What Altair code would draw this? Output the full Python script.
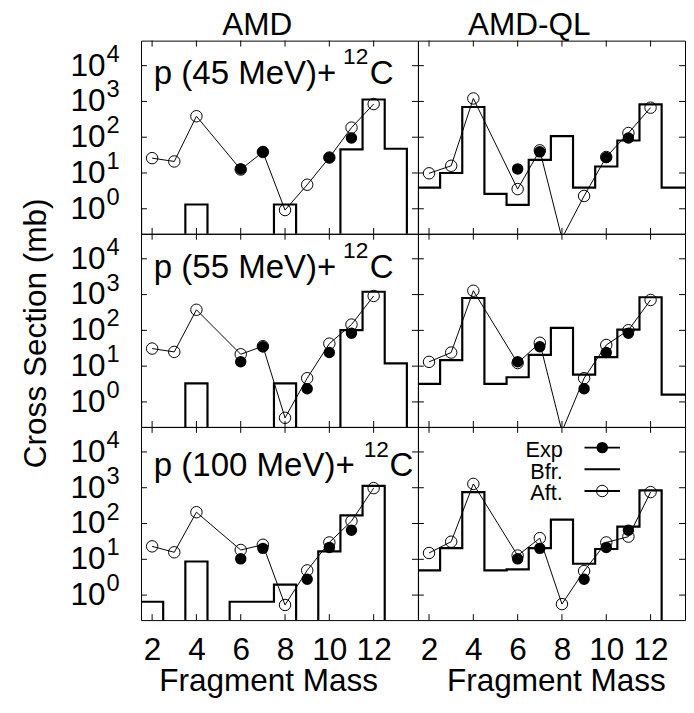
import altair as alt
import pandas as pd

FONT = "Liberation Sans"

# ---------------- data ----------------
models = ["AMD", "AMD-QL"]
energies = [45, 55, 100]
row_labels = ["p (45 MeV)+", "p (55 MeV)+", "p (100 MeV)+"]
target_mass = "12"
target_symbol = "C"

hist_masses = [1, 2, 3, 4, 5, 6, 7, 8, 9, 10, 11, 12, 13, 14]
bfr_amd_45 = [1.0, 0, 0, 1.32, 0, 0, 0, 1.32, 0, 0, 45.6, 1135, 47.6, 0]
bfr_amd_55 = [1.0, 0, 0, 3.3, 0, 0, 0, 3.3, 0, 0, 101, 1200, 11.9, 0]
bfr_amd_100 = [0.65, 0.65, 0, 8.7, 0, 0.65, 0.65, 1.97, 0, 16.7, 168, 1130, 0, 0]
bfr_ql_45 = [0, 3.9, 10, 698, 2.6, 1.29, 23.3, 107, 3.9, 15.2, 81, 826, 3.9, 3.9]
bfr_ql_55 = [0, 3.2, 14.7, 803, 3.2, 4.9, 20.6, 117, 5.8, 17.8, 105, 840, 1.6, 1.6]
bfr_ql_100 = [0, 4.9, 20.6, 755, 4.9, 5.2, 20.6, 128, 7.5, 19.4, 82, 840, 0, 0]

aft_masses = [2, 3, 4, 6, 7, 8, 9, 10, 11, 12]
aft_amd_45 = [26, 21, 386, 12.5, 38.6, 0.92, 4.7, 27, 185, 845]
aft_amd_55 = [31, 25, 376, 21.5, 36, 0.36, 4.6, 42.5, 145, 914]
aft_amd_100 = [23, 15.7, 207, 18.2, 25.5, 0.53, 4.9, 29.6, 117, 975]
aft_ql_45 = [9.8, 15.9, 1210, 3.55, 43, 0.15, 2.28, 28, 131, 670]
aft_ql_55 = [13.2, 24, 1280, 12.2, 45, 0.15, 4.6, 39, 101, 708]
aft_ql_100 = [15, 31, 1280, 12.7, 39, 0.56, 4.7, 29.6, 43, 755]

exp_masses_45 = [6, 7, 10, 11]
exp_values_45 = [13, 39, 27, 95]
exp_masses_55 = [6, 7, 9, 10, 11]
exp_values_55 = [13.3, 34.7, 2.33, 24, 83]
exp_masses_100 = [6, 7, 9, 10, 11]
exp_values_100 = [10.3, 20.2, 2.76, 21.5, 65]

x_tick_values = [2, 4, 6, 8, 10, 12]
y_tick_values = [1, 10, 100, 1000, 10000]
y_tick_exponents = ["0", "1", "2", "3", "4"]
legend_labels = ["Exp", "Bfr.", "Aft."]

bfr = {("AMD", 45): bfr_amd_45, ("AMD", 55): bfr_amd_55, ("AMD", 100): bfr_amd_100,
       ("AMD-QL", 45): bfr_ql_45, ("AMD-QL", 55): bfr_ql_55, ("AMD-QL", 100): bfr_ql_100}
aft = {("AMD", 45): aft_amd_45, ("AMD", 55): aft_amd_55, ("AMD", 100): aft_amd_100,
       ("AMD-QL", 45): aft_ql_45, ("AMD-QL", 55): aft_ql_55, ("AMD-QL", 100): aft_ql_100}
exp = {45: (exp_masses_45, exp_values_45), 55: (exp_masses_55, exp_values_55),
       100: (exp_masses_100, exp_values_100)}

# ---------------- layout ----------------
W_LEFT, W_RIGHT, H = 281, 271, 196
X_LEFT = [1.5, 14.0]
X_RIGHT = [1.5, 1.5 + W_RIGHT * 12.5 / W_LEFT]
Y_DOMAIN = [0.2, 50000]
label_base_y = [44, 45, 50]
sup_x = [205, 205, 226]
sym_x = [232, 232, 252]
title_center_x = [118, 113]


def make_panel(model, energy, col, row):
    w = W_LEFT if col == 0 else W_RIGHT
    xsc = alt.Scale(domain=X_LEFT if col == 0 else X_RIGHT, nice=False, zero=False)
    ysc = alt.Scale(type="log", domain=Y_DOMAIN, nice=False)
    if row == 2:
        xaxis = alt.Axis(values=x_tick_values, title="Fragment Mass", grid=False,
                         domain=False, ticks=False, tickSize=0,
                         labelFont=FONT, labelFontSize=32, labelColor="black",
                         labelPadding=30, labelBaseline="middle", labelFlush=False,
                         labelOverlap=False, labelAngle=0,
                         titleFont=FONT, titleFontSize=32, titleFontWeight="normal",
                         titleColor="black", titlePadding=0,
                         titleX=(129 if col == 0 else 140), titleAlign="center")
    else:
        xaxis = None

    def X():
        return alt.X("mass:Q", scale=xsc, axis=xaxis)

    def Y():
        return alt.Y("v:Q", scale=ysc, axis=None)

    em, ev = exp[energy]
    exp_df = pd.DataFrame({"mass": em, "v": ev})
    hist_df = pd.DataFrame({"mass": hist_masses, "xs": bfr[(model, energy)]})
    aft_df = pd.DataFrame({"mass": aft_masses, "v": aft[(model, energy)]})
    yt_df = pd.DataFrame({"v": y_tick_values, "e": y_tick_exponents})
    xt_df = pd.DataFrame({"mass": x_tick_values})

    layers = []
    layers.append(alt.Chart(exp_df).mark_point(shape="circle", filled=True, color="black",
                                               size=135, opacity=1, clip=True)
                  .encode(x=X(), y=Y()))
    layers.append(alt.Chart(hist_df)
                  .transform_calculate(v="datum.xs > 0 ? datum.xs : 0.05")
                  .mark_line(interpolate="step", color="black", strokeWidth=2.2, clip=True)
                  .encode(x=X(), y=Y()))
    layers.append(alt.Chart(aft_df).mark_line(color="black", strokeWidth=1, clip=True)
                  .encode(x=X(), y=Y()))
    layers.append(alt.Chart(aft_df).transform_filter("datum.v >= 0.2")
                  .mark_point(shape="circle", filled=False, color="black", size=135,
                              strokeWidth=1, opacity=1, clip=True)
                  .encode(x=X(), y=Y()))
    # inner ticks on all four sides
    layers.append(alt.Chart(yt_df).mark_rule(color="black", strokeWidth=1)
                  .encode(y=Y(), x=alt.value(0), x2=alt.value(6)))
    layers.append(alt.Chart(yt_df).mark_rule(color="black", strokeWidth=1)
                  .encode(y=Y(), x=alt.value(w - 6), x2=alt.value(w)))
    layers.append(alt.Chart(xt_df).mark_rule(color="black", strokeWidth=1)
                  .encode(x=X(), y=alt.value(0), y2=alt.value(6)))
    layers.append(alt.Chart(xt_df).mark_rule(color="black", strokeWidth=1)
                  .encode(x=X(), y=alt.value(H - 6), y2=alt.value(H)))

    if row == 0:
        layers.append(alt.Chart(pd.DataFrame({"t": [model]}))
                      .mark_text(align="center", baseline="alphabetic", font=FONT,
                                 fontSize=32, color="black")
                      .encode(x=alt.value(title_center_x[col]), y=alt.value(-6), text="t:N"))

    if col == 0:
        layers.append(alt.Chart(yt_df).mark_text(align="right", baseline="middle",
                                                 font=FONT, fontSize=32, color="black")
                      .encode(y=Y(), x=alt.value(-36), text=alt.value("10")))
        layers.append(alt.Chart(yt_df).mark_text(align="left", baseline="middle",
                                                 font=FONT, fontSize=24, color="black", dy=-11)
                      .encode(y=Y(), x=alt.value(-35), text="e:N"))
        lab_df = pd.DataFrame({"t": [row_labels[row]], "s": [target_mass], "c": [target_symbol]})
        layers.append(alt.Chart(lab_df).mark_text(align="left", baseline="alphabetic",
                                                  font=FONT, fontSize=33.5, color="black")
                      .encode(x=alt.value(13), y=alt.value(label_base_y[row]), text="t:N"))
        layers.append(alt.Chart(lab_df).mark_text(align="left", baseline="alphabetic",
                                                  font=FONT, fontSize=23, color="black")
                      .encode(x=alt.value(sup_x[row]), y=alt.value(label_base_y[row] - 20), text="s:N"))
        layers.append(alt.Chart(lab_df).mark_text(align="left", baseline="alphabetic",
                                                  font=FONT, fontSize=33.5, color="black")
                      .encode(x=alt.value(sym_x[row]), y=alt.value(label_base_y[row]), text="c:N"))
        if row == 1:
            layers.append(alt.Chart(pd.DataFrame({"t": ["Cross Section (mb)"]}))
                          .mark_text(angle=270, align="center", baseline="middle",
                                     font=FONT, fontSize=32, color="black")
                          .encode(x=alt.value(-106), y=alt.value(H / 2 + 3), text="t:N"))

    chart = alt.layer(*layers)

    if col == 1 and row == 2:
        leg_df = pd.DataFrame({"label": legend_labels})
        ly = alt.Y("label:N", axis=None,
                   scale=alt.Scale(type="point", domain=legend_labels, range=[21, 65], padding=0))
        leg_text = alt.Chart(leg_df).mark_text(align="right", baseline="alphabetic", dy=9.5,
                                               font=FONT, fontSize=22, color="black") \
            .encode(y=ly, x=alt.value(147), text="label:N")
        leg_rule = alt.Chart(leg_df).mark_rule(color="black").encode(
            y=ly, x=alt.value(169), x2=alt.value(205),
            strokeWidth=alt.StrokeWidth("label:N", legend=None,
                                        scale=alt.Scale(domain=legend_labels, range=[2, 2, 1])))
        leg_exp = alt.Chart(leg_df).transform_filter("datum.label == 'Exp'") \
            .mark_point(shape="circle", filled=True, color="black", size=135, opacity=1) \
            .encode(y=ly, x=alt.value(187))
        leg_aft = alt.Chart(leg_df).transform_filter("datum.label == 'Aft.'") \
            .mark_point(shape="circle", filled=False, color="black", size=135, strokeWidth=1, opacity=1) \
            .encode(y=ly, x=alt.value(187))
        legend = alt.layer(leg_rule, leg_exp, leg_aft, leg_text)
        chart = alt.layer(chart, legend).resolve_scale(y="independent")

    return chart.properties(width=w, height=H)


panels = []
for r, e in enumerate(energies):
    for c, m in enumerate(models):
        panels.append(make_panel(m, e, c, r))

chart = alt.concat(*panels, columns=2, spacing=0, bounds="flush").properties(
    padding={"left": 12, "top": -5, "right": 0, "bottom": 0},
    background="white",
).configure_view(stroke="black", strokeWidth=1).configure_concat(spacing=0)

chart.save("out.html", embed_options={"renderer": "svg", "actions": False})
